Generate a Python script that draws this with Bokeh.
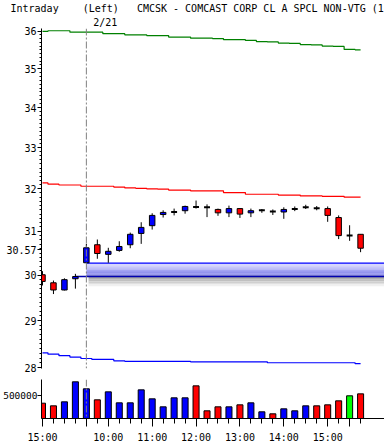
import numpy as np
from bokeh.plotting import figure
from bokeh.models import Range1d, FixedTicker, Span, NumeralTickFormatter, Title
from bokeh.layouts import column
from bokeh.embed import file_html
from bokeh.resources import INLINE

# ---------------- data ----------------
times = ["15:00", "15:15", "15:30", "15:45", "9:30", "9:45", "10:00", "10:15", "10:30", "10:45",
         "11:00", "11:15", "11:30", "11:45", "12:00", "12:15", "12:30", "12:45", "13:00", "13:15",
         "13:30", "13:45", "14:00", "14:15", "14:30", "14:45", "15:00", "15:15", "15:30", "15:45"]
opens = [30.01, 29.83, 29.67, 29.92, 30.28, 30.69, 30.47, 30.56, 30.69, 30.95,
         31.13, 31.39, 31.45, 31.48, 31.57, 31.56, 31.51, 31.43, 31.53, 31.43,
         31.49, 31.46, 31.45, 31.52, 31.56, 31.54, 31.53, 31.32, 30.90, 30.93]
highs = [30.09, 29.88, 29.93, 30.03, 30.71, 30.81, 30.62, 30.77, 30.97, 31.21,
         31.42, 31.49, 31.53, 31.60, 31.72, 31.63, 31.53, 31.60, 31.54, 31.53,
         31.52, 31.51, 31.56, 31.58, 31.62, 31.59, 31.58, 31.37, 31.14, 30.93]
lows = [29.77, 29.58, 29.66, 29.70, 30.27, 30.37, 30.28, 30.53, 30.61, 30.71,
        31.04, 31.32, 31.37, 31.41, 31.53, 31.33, 31.36, 31.33, 31.31, 31.33,
        31.43, 31.38, 31.29, 31.47, 31.52, 31.49, 31.22, 30.82, 30.78, 30.52]
closes = [29.86, 29.67, 29.90, 29.97, 30.62, 30.49, 30.54, 30.65, 30.93, 31.09,
          31.37, 31.44, 31.45, 31.58, 31.57, 31.56, 31.43, 31.53, 31.40, 31.48,
          31.49, 31.46, 31.51, 31.52, 31.56, 31.54, 31.37, 30.90, 30.90, 30.61]
volumes = [337000, 279000, 367000, 808000, 654000, 411000, 587000, 345000, 345000, 631000,
           433000, 257000, 455000, 455000, 719000, 169000, 257000, 257000, 301000, 345000,
           147000, 103000, 213000, 169000, 279000, 279000, 301000, 389000, 500000, 543000]
upper_line = [35.99, 36.01, 36.01, 35.97, 35.97, 35.97, 35.93, 35.93, 35.90, 35.90,
              35.88, 35.88, 35.84, 35.84, 35.81, 35.81, 35.80, 35.77, 35.77, 35.75,
              35.72, 35.71, 35.68, 35.67, 35.64, 35.63, 35.60, 35.59, 35.51, 35.50]
middle_line = [32.14, 32.11, 32.09, 32.09, 32.06, 32.06, 32.06, 32.04, 32.02, 32.01,
               32.00, 31.99, 31.97, 31.97, 31.95, 31.95, 31.95, 31.91, 31.91, 31.87,
               31.87, 31.87, 31.85, 31.85, 31.83, 31.83, 31.82, 31.82, 31.80, 31.80]
lower_line = [28.31, 28.28, 28.25, 28.22, 28.19, 28.17, 28.17, 28.14, 28.13, 28.13,
              28.13, 28.13, 28.13, 28.13, 28.12, 28.12, 28.12, 28.12, 28.12, 28.12,
              28.12, 28.10, 28.10, 28.10, 28.10, 28.10, 28.10, 28.10, 28.10, 28.08]
price_ticks = [28, 29, 30, 30.57, 31, 32, 33, 34, 35, 36]
price_minor_step = 0.1
volume_ticks = [500000]
long_tick_idx = [0, 4, 6, 10, 14, 18, 22, 26, 28]
title_parts = ["Intraday", "(Left)", "CMCSK - COMCAST CORP CL A SPCL NON-VTG", "(1"]
title_gaps = [4, 3, 1]
date_text = "2/21"

# ---------------- derived ----------------
FONT = "DejaVu Sans Mono"
NB = "\u00a0"
title_text = title_parts[0]
for gap, part in zip(title_gaps, title_parts[1:]):
    title_text += NB * gap + part.replace(" ", NB)
N = len(times)
xs = np.arange(N)
o, h, l, c = map(np.array, (opens, highs, lows, closes))
day_start = times.index("9:30")

up = c > o
dn = c < o
fl = c == o
prev = np.concatenate([[o[0]], c[:-1]])
vcol = np.where(c > prev, "#0000ff", np.where(c < prev, "#ff0000", "#00ff00"))

XR = Range1d(-0.09, 31.18)
YLO, YHI = 27.98, 36.07

# ---------------- price panel ----------------
p = figure(width=384, height=373, x_range=XR, y_range=Range1d(YLO, YHI), y_axis_type="log",
           x_axis_location=None, toolbar_location=None, output_backend="svg", title=None,
           min_border_left=40, min_border_right=0, min_border_top=28, min_border_bottom=5)
p.outline_line_color = None
p.xgrid.visible = False
p.ygrid.visible = False

ya = p.yaxis[0]
minor = [round(v, 2) for v in np.arange(28, 36.0001, price_minor_step) if abs(v - round(v)) > 1e-6]
ya.ticker = FixedTicker(ticks=price_ticks, minor_ticks=minor)
ya.formatter = NumeralTickFormatter(format="0.[00]")
ya.major_label_text_font = FONT
ya.major_label_text_font_size = "10px"
ya.major_label_text_color = "black"
ya.major_label_standoff = 1
ya.major_tick_out = 4
ya.major_tick_in = 0
ya.minor_tick_out = 2
ya.minor_tick_in = 0
ya.axis_line_color = "black"

# envelope lines
p.step(xs, upper_line, mode="center", line_color="#008000", line_width=1.2)
p.step(xs, middle_line, mode="center", line_color="#ff0000", line_width=1.2)
p.step(xs, lower_line, mode="center", line_color="#0000ff", line_width=1.2)

# gap window band
gap_top = lows[day_start]
gap_bot = closes[day_start - 1]
ns = 12
top_c = np.array([214, 214, 255])
bot_c = np.array([122, 122, 232])
for k in range(ns):
    t = k / (ns - 1)
    col = top_c * (1 - t) + bot_c * t
    if k == ns - 1:
        col = np.array([90, 90, 170])
    y1 = gap_top * (gap_bot / gap_top) ** (k / ns)
    y0 = gap_top * (gap_bot / gap_top) ** ((k + 1) / ns)
    p.quad(left=day_start, right=40, bottom=y0, top=y1,
           fill_color="#%02x%02x%02x" % tuple(int(v) for v in col), line_color=None)
for k in range(6):
    g = int(160 + k * 16)
    y1 = gap_bot * np.exp(-k * 1.6 / 1338)
    y0 = gap_bot * np.exp(-(k + 1) * 1.6 / 1338)
    p.quad(left=day_start + 0.2, right=40, bottom=y0, top=y1,
           fill_color="#%02x%02x%02x" % (g, g, g), line_color=None)
p.segment(x0=[day_start], y0=[gap_top], x1=[40], y1=[gap_top], line_color="#0000ff", line_width=1.3)
p.segment(x0=[day_start - 1], y0=[gap_bot], x1=[40], y1=[gap_bot], line_color="#0000b0", line_width=1.3)

p.add_layout(Span(location=day_start, dimension="height", line_color="#808080",
                  line_dash="7 2 2 2", line_width=1))

# candles
p.segment(x0=xs, y0=h, x1=xs, y1=l, line_color="black", line_width=1)
p.vbar(x=xs[up], width=0.5, top=c[up], bottom=o[up], fill_color="#0000ff", line_color="black", line_width=1)
p.vbar(x=xs[dn], width=0.5, top=o[dn], bottom=c[dn], fill_color="#ff0000", line_color="black", line_width=1)
p.segment(x0=xs[fl] - 0.27, y0=o[fl], x1=xs[fl] + 0.27, y1=o[fl], line_color="black", line_width=2)

# header texts as stacked titles (first added sits closest to the frame)
p.add_layout(Title(text=date_text, align="left", offset=91.7 - 40, standoff=1,
                   text_font=FONT, text_font_size="10px", text_font_style="normal",
                   text_color="black"), "above")
p.add_layout(Title(text=title_text, align="left", offset=9 - 40, standoff=1,
                   text_font=FONT, text_font_size="10px", text_font_style="normal",
                   text_color="black"), "above")

# ---------------- separator (double rule) ----------------
s = figure(width=384, height=3, x_range=Range1d(0, 1), y_range=Range1d(0, 3),
           x_axis_location=None, y_axis_location=None, toolbar_location=None, output_backend="svg",
           min_border_left=0, min_border_right=0, min_border_top=0, min_border_bottom=0)
s.outline_line_color = None
s.xgrid.visible = False
s.ygrid.visible = False
s.segment(x0=[0, 0], y0=[2.5, 0.5], x1=[1, 1], y1=[2.5, 0.5], line_color="black", line_width=1)

# ---------------- volume panel ----------------
v = figure(width=384, height=69, x_range=XR, y_range=Range1d(0, 859000),
           toolbar_location=None, output_backend="svg",
           min_border_left=40, min_border_right=0, min_border_top=3, min_border_bottom=27)
v.outline_line_color = None
v.xgrid.visible = False
v.ygrid.visible = False
v.add_layout(Span(location=day_start, dimension="height", line_color="#808080",
                  line_dash="7 2 2 2", line_width=1))
v.vbar(x=xs, width=0.55, bottom=0, top=volumes, fill_color=list(vcol), line_color="black", line_width=1)

vy = v.yaxis[0]
vy.ticker = FixedTicker(ticks=volume_ticks, minor_ticks=[])
vy.formatter = NumeralTickFormatter(format="0")
vy.major_label_text_font = FONT
vy.major_label_text_font_size = "9.5px"
vy.major_label_text_color = "black"
vy.major_label_standoff = 0
vy.major_tick_out = 4
vy.major_tick_in = 0
vy.minor_tick_out = 0
vy.minor_tick_in = 0

vx = v.xaxis[0]
vx.ticker = FixedTicker(ticks=long_tick_idx, minor_ticks=list(range(N)))
vx.major_label_overrides = {i: (times[i] if times[i].endswith(":00") else "") for i in long_tick_idx}
vx.major_label_text_font = FONT
vx.major_label_text_font_size = "10px"
vx.major_label_text_color = "black"
vx.major_label_standoff = 5
vx.major_tick_out = 8
vx.major_tick_in = 0
vx.minor_tick_out = 5
vx.minor_tick_in = 0

layout = column(p, s, v, spacing=0)
open("out.html", "w").write(file_html(layout, INLINE))
